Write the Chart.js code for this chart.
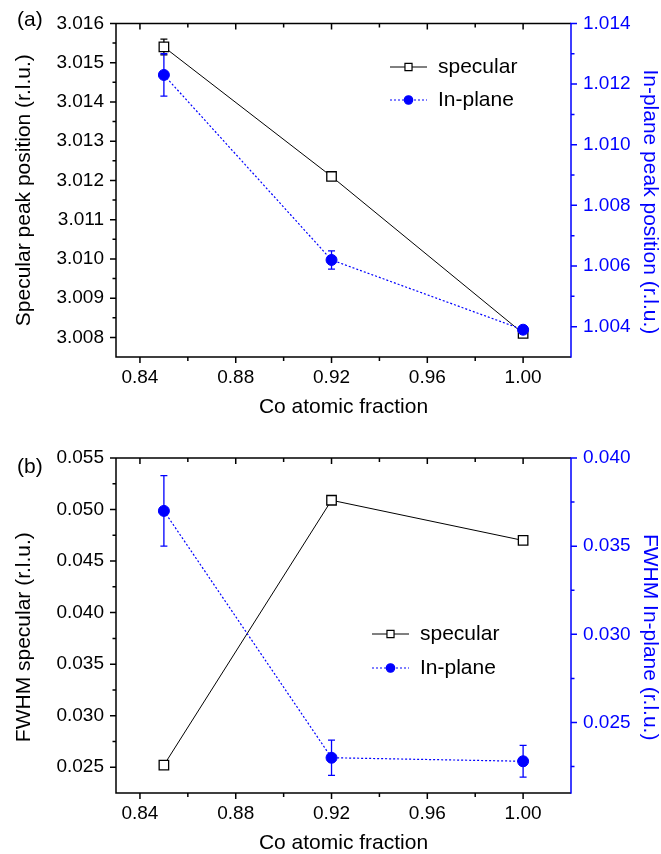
<!DOCTYPE html>
<html>
<head>
<meta charset="utf-8">
<script src="https://cdn.jsdelivr.net/npm/chart.js@4.4.1/dist/chart.umd.min.js"></script>
<style>
  html, body { margin: 0; padding: 0; background: #fff; }
  #wrap { position: relative; width: 661px; height: 854px; }
  #chartA { position: absolute; left: 0; top: 0; }
  #chartB { position: absolute; left: 0; top: 420px; }
</style>
</head>
<body>
<div id="wrap">
  <canvas id="chartA" width="661" height="420"></canvas>
  <canvas id="chartB" width="661" height="434"></canvas>
</div>
<script>
// data
const coFraction = [0.85, 0.92, 1.00];

const specPeak = [3.0154, 3.0121, 3.0081];
const specPeakErr = [0.0002, 0.00005, 0.00005];
const inplanePeak = [1.0123, 1.0062, 1.0039];
const inplanePeakErr = [0.0007, 0.0003, 0.0001];

const specFwhm = [0.0252, 0.0509, 0.0470];
const specFwhmErr = [0.0002, 0.0002, 0.0002];
const inplaneFwhm = [0.0370, 0.0230, 0.0228];
const inplaneFwhmErr = [0.0020, 0.0010, 0.0009];

// tick labels
const xTicks = [0.84, 0.88, 0.92, 0.96, 1.00];
const yTicksA = [3.008, 3.009, 3.010, 3.011, 3.012, 3.013, 3.014, 3.015, 3.016];
const y2TicksA = [1.004, 1.006, 1.008, 1.010, 1.012, 1.014];
const yTicksB = [0.025, 0.030, 0.035, 0.040, 0.045, 0.050, 0.055];
const y2TicksB = [0.025, 0.030, 0.035, 0.040];

const BLUE = '#0000ff';
const FONT = "'Liberation Sans', Arial, sans-serif";
Chart.defaults.font.family = FONT;

const pts = (ys) => coFraction.map((x, i) => ({ x: x, y: ys[i] }));

// error bars, drawn under the markers
const errorBars = {
  id: 'errorBars',
  beforeDatasetsDraw(chart) {
    const ctx = chart.ctx;
    const xs = chart.scales.x;
    chart.data.datasets.forEach(ds => {
      if (!ds.errors) return;
      const ys = chart.scales[ds.yAxisID];
      ctx.save();
      ctx.strokeStyle = ds.pointBorderColor;
      ctx.lineWidth = 1.3;
      ds.data.forEach((p, j) => {
        const e = ds.errors[j];
        const px = xs.getPixelForValue(p.x);
        const t = ys.getPixelForValue(p.y + e);
        const b = ys.getPixelForValue(p.y - e);
        ctx.beginPath();
        ctx.moveTo(px, t); ctx.lineTo(px, b);
        ctx.moveTo(px - 3.5, t); ctx.lineTo(px + 3.5, t);
        ctx.moveTo(px - 3.5, b); ctx.lineTo(px + 3.5, b);
        ctx.stroke();
      });
      ctx.restore();
    });
  }
};

function minorsOf(scale) {
  const v = scale.ticks.map(t => t.value);
  const step = v[1] - v[0];
  const out = [];
  v.forEach(m => {
    [m - step / 2, m + step / 2].forEach(k => {
      if (k > scale.min + 1e-9 && k < scale.max - 1e-9 && !out.some(o => Math.abs(o - k) < 1e-9)) out.push(k);
    });
  });
  return out;
}

// box frame with Origin-like ticks
const frame = {
  id: 'frame',
  afterDraw(chart) {
    const { ctx, chartArea: a } = chart;
    const xs = chart.scales.x, yl = chart.scales.y, yr = chart.scales.y2;
    ctx.save();
    ctx.lineWidth = 1.5;
    ctx.strokeStyle = '#000';
    ctx.beginPath();
    ctx.moveTo(a.right, a.top); ctx.lineTo(a.left, a.top);
    ctx.lineTo(a.left, a.bottom); ctx.lineTo(a.right, a.bottom);
    xs.ticks.forEach(t => {
      const px = xs.getPixelForValue(t.value);
      ctx.moveTo(px, a.bottom); ctx.lineTo(px, a.bottom + 6);
      ctx.moveTo(px, a.top); ctx.lineTo(px, a.top + 6);
    });
    minorsOf(xs).forEach(v => {
      const px = xs.getPixelForValue(v);
      ctx.moveTo(px, a.bottom); ctx.lineTo(px, a.bottom + 4);
      ctx.moveTo(px, a.top); ctx.lineTo(px, a.top + 4);
    });
    yl.ticks.forEach(t => {
      const py = yl.getPixelForValue(t.value);
      ctx.moveTo(a.left, py); ctx.lineTo(a.left - 6, py);
    });
    minorsOf(yl).forEach(v => {
      const py = yl.getPixelForValue(v);
      ctx.moveTo(a.left, py); ctx.lineTo(a.left - 3.5, py);
    });
    ctx.stroke();

    ctx.strokeStyle = BLUE;
    ctx.beginPath();
    ctx.moveTo(a.right, a.top - 0.75); ctx.lineTo(a.right, a.bottom + 0.75);
    yr.ticks.forEach(t => {
      const py = yr.getPixelForValue(t.value);
      ctx.moveTo(a.right, py); ctx.lineTo(a.right + 6, py);
    });
    minorsOf(yr).forEach(v => {
      const py = yr.getPixelForValue(v);
      ctx.moveTo(a.right, py); ctx.lineTo(a.right + 3.5, py);
    });
    ctx.stroke();
    ctx.restore();
  }
};

// legend inside the plot + panel letter
const innerLegend = {
  id: 'innerLegend',
  afterDraw(chart, args, opts) {
    const ctx = chart.ctx;
    ctx.save();
    ctx.font = '21px ' + FONT;
    ctx.textBaseline = 'middle';
    ctx.fillStyle = '#000';
    ctx.fillText(opts.label, opts.labelX, opts.labelY);
    chart.data.datasets.forEach((ds, i) => {
      const y = opts.y[i];
      const x0 = opts.x, x1 = opts.x + 37, cx = (x0 + x1) / 2;
      ctx.strokeStyle = ds.borderColor;
      ctx.lineWidth = ds.borderWidth;
      ctx.setLineDash(ds.borderDash || []);
      ctx.beginPath();
      ctx.moveTo(x0, y); ctx.lineTo(x1, y);
      ctx.stroke();
      ctx.setLineDash([]);
      ctx.fillStyle = ds.pointBackgroundColor;
      ctx.strokeStyle = ds.pointBorderColor;
      ctx.lineWidth = 1.2;
      Chart.helpers.drawPoint(ctx, { pointStyle: ds.pointStyle, radius: ds.pointStyle === 'rect' ? 5 : 4.2, borderWidth: 1.2 }, cx, y);
      ctx.fillStyle = '#000';
      ctx.fillText(ds.label, x1 + 11, y);
    });
    ctx.restore();
  }
};

function makePanel(id, p) {
  const tickFont = { size: 19 };
  return new Chart(document.getElementById(id), {
    type: 'line',
    data: {
      datasets: [
        {
          label: 'specular',
          data: pts(p.spec),
          errors: p.specErr,
          yAxisID: 'y',
          borderColor: '#000',
          borderWidth: 1,
          pointStyle: 'rect',
          pointRadius: 6.7,
          pointBorderWidth: 1.3,
          pointBackgroundColor: '#fff',
          pointBorderColor: '#000',
          order: 1
        },
        {
          label: 'In-plane',
          data: pts(p.inplane),
          errors: p.inplaneErr,
          yAxisID: 'y2',
          borderColor: BLUE,
          borderWidth: 1.2,
          borderDash: [2, 2],
          pointStyle: 'circle',
          pointRadius: 5.5,
          pointBorderWidth: 1,
          pointBackgroundColor: BLUE,
          pointBorderColor: BLUE,
          order: 0
        }
      ]
    },
    options: {
      responsive: false,
      animation: false,
      devicePixelRatio: 1,
      layout: { padding: { top: p.top, left: 0, right: 0, bottom: 0 } },
      scales: {
        x: {
          type: 'linear',
          min: 0.83,
          max: 1.02,
          afterBuildTicks: s => { s.ticks = xTicks.map(v => ({ value: v })); },
          afterFit: s => { s.height = p.xHeight; },
          ticks: { callback: v => v.toFixed(2), color: '#000', font: tickFont, padding: 9, maxRotation: 0, autoSkip: false },
          grid: { display: false, drawTicks: false },
          border: { display: false },
          title: { display: true, text: 'Co atomic fraction', color: '#000', font: { size: 21, lineHeight: 1 }, padding: { top: 0, bottom: p.xTitlePad } }
        },
        y: {
          position: 'left',
          min: p.yMin,
          max: p.yMax,
          afterBuildTicks: s => { s.ticks = p.yTicks.map(v => ({ value: v })); },
          afterFit: s => { s.width = 116; },
          ticks: { callback: v => v.toFixed(3), color: '#000', font: tickFont, padding: 12, autoSkip: false },
          grid: { display: false, drawTicks: false },
          border: { display: false },
          title: { display: true, text: p.yTitle, color: '#000', font: { size: 21, lineHeight: 1 }, padding: { top: 14, bottom: 0 } }
        },
        y2: {
          position: 'right',
          min: p.y2Min,
          max: p.y2Max,
          afterBuildTicks: s => { s.ticks = p.y2Ticks.map(v => ({ value: v })); },
          afterFit: s => { s.width = 90; },
          ticks: { callback: v => v.toFixed(3), color: BLUE, font: tickFont, padding: 12, autoSkip: false },
          grid: { display: false, drawTicks: false },
          border: { display: false },
          title: { display: true, text: p.y2Title, color: BLUE, font: { size: 21, lineHeight: 1 }, padding: { top: 1, bottom: 0 } }
        }
      },
      plugins: {
        legend: { display: false },
        tooltip: { enabled: false },
        innerLegend: p.legend
      }
    },
    plugins: [errorBars, frame, innerLegend]
  });
}

makePanel('chartA', {
  spec: specPeak, specErr: specPeakErr,
  inplane: inplanePeak, inplaneErr: inplanePeakErr,
  yMin: 3.0075, yMax: 3.016, yTicks: yTicksA,
  y2Min: 1.003, y2Max: 1.014, y2Ticks: y2TicksA,
  yTitle: 'Specular peak position (r.l.u.)',
  y2Title: '    In-plane peak position (r.l.u.)',
  top: 21, xHeight: 63, xTitlePad: 2,
  legend: { x: 390, y: [67, 100], label: '(a)', labelX: 17, labelY: 20 }
});

makePanel('chartB', {
  spec: specFwhm, specErr: specFwhmErr,
  inplane: inplaneFwhm, inplaneErr: inplaneFwhmErr,
  yMin: 0.0225, yMax: 0.055, yTicks: yTicksB,
  y2Min: 0.021, y2Max: 0.040, y2Ticks: y2TicksB,
  yTitle: 'FWHM specular (r.l.u.)    ',
  y2Title: '    FWHM In-plane (r.l.u.)',
  top: 38, xHeight: 61, xTitlePad: 0,
  legend: { x: 372, y: [214, 248], label: '(b)', labelX: 17, labelY: 47 }
});
</script>
</body>
</html>
